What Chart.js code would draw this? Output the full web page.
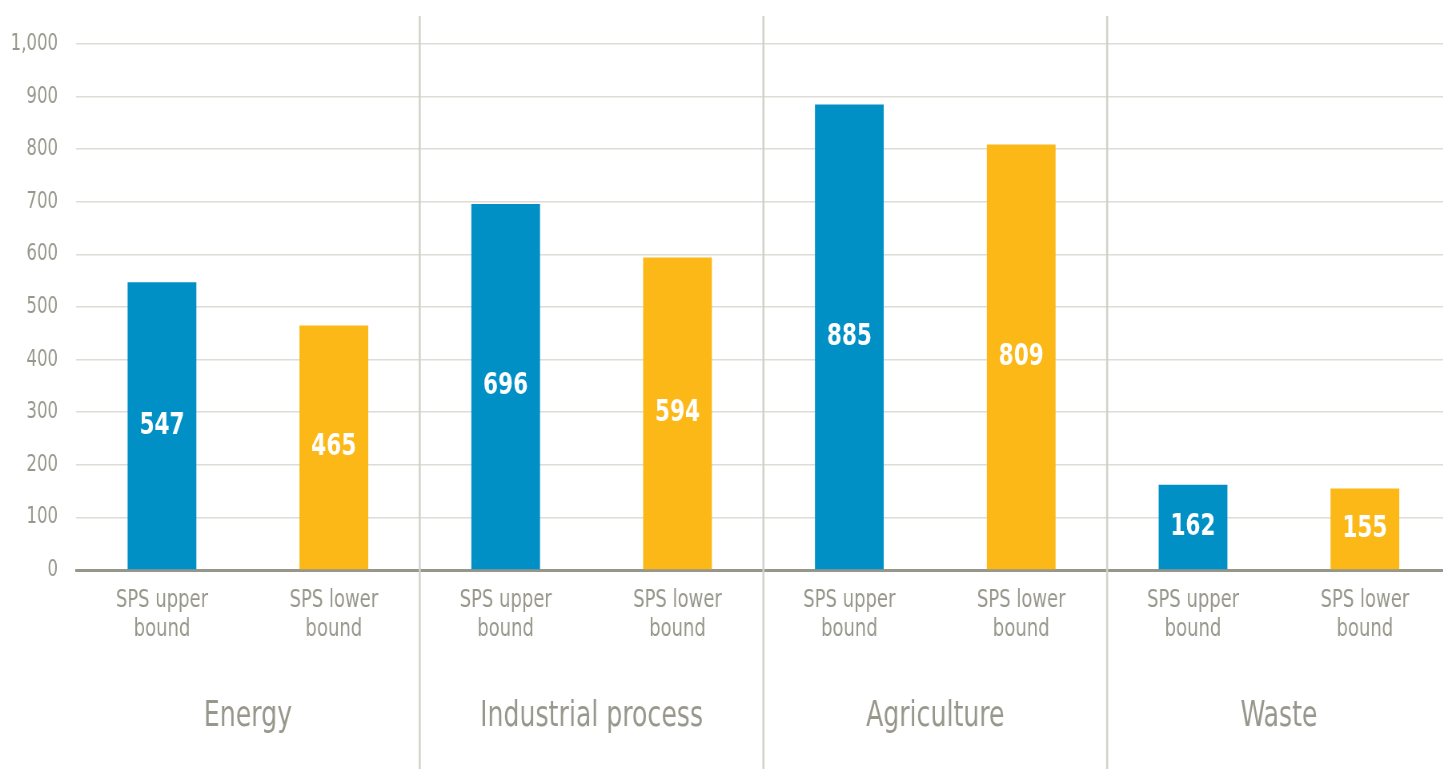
<!DOCTYPE html>
<html>
<head>
<meta charset="utf-8">
<script src="https://cdn.jsdelivr.net/npm/chart.js@4/dist/chart.umd.min.js"></script>
<style>
  html, body { margin: 0; padding: 0; background: #fff; overflow: hidden; }
  /* drawn wide, then squeezed horizontally so the lettering reads condensed */
  #wrap { position: relative; width: 1812.5px; height: 769px; transform: scaleX(0.8); transform-origin: 0 0; }
</style>
</head>
<body>
<div id="wrap"><canvas id="chart"></canvas></div>
<script>
// sectors and the two SPS bounds inside each one
var sectors = ['Energy', 'Industrial process', 'Agriculture', 'Waste']
var bounds = [['SPS upper', 'bound'], ['SPS lower', 'bound']]
var upperValues = [547, 696, 885, 162]
var lowerValues = [465, 594, 809, 155]
var yTicks = [0, 100, 200, 300, 400, 500, 600, 700, 800, 900, 1000]

var SQUEEZE = 0.8
var BLUE = '#0090c5'
var YELLOW = '#fbb817'
var GREY_TEXT = '#97978c'
var FONT = '"DejaVu Sans Condensed", "Liberation Sans Narrow", "Roboto", sans-serif'

// flatten into one bar per (sector, bound)
var barLabels = []
var barValues = []
var barColors = []
for (var s = 0; s < sectors.length; s++) {
  barLabels.push(bounds[0], bounds[1])
  barValues.push(upperValues[s], lowerValues[s])
  barColors.push(BLUE, YELLOW)
}

// white value label in the middle of each bar
const valueLabels = {
  id: 'valueLabels',
  afterDatasetsDraw(chart) {
    const ctx = chart.ctx
    const meta = chart.getDatasetMeta(0)
    ctx.save()
    ctx.fillStyle = '#fff'
    ctx.font = 'bold 30px ' + FONT
    ctx.textAlign = 'center'
    ctx.textBaseline = 'middle'
    meta.data.forEach((bar, i) => {
      ctx.fillText(String(barValues[i]), bar.x, (bar.y + bar.base) / 2)
    })
    ctx.restore()
  }
}

// thin vertical rules between sectors, running the full height
const sectorRules = {
  id: 'sectorRules',
  beforeDatasetsDraw(chart) {
    const ctx = chart.ctx
    const x = chart.scales.x
    ctx.save()
    ctx.strokeStyle = '#d2d1c9'
    ctx.lineWidth = 2 / SQUEEZE
    for (var i = 2; i < barValues.length; i += 2) {
      const px = (x.getPixelForValue(i - 1) + x.getPixelForValue(i)) / 2
      ctx.beginPath()
      ctx.moveTo(px, 16)
      ctx.lineTo(px, chart.height)
      ctx.stroke()
    }
    ctx.restore()
  }
}

new Chart(document.getElementById('chart'), {
  type: 'bar',
  data: {
    labels: barLabels,
    datasets: [{
      data: barValues,
      backgroundColor: barColors,
      barPercentage: 0.4,
      categoryPercentage: 1
    }]
  },
  options: {
    responsive: true,
    maintainAspectRatio: false,
    animation: false,
    layout: { padding: { top: 44, right: 0, bottom: 0, left: 0 } },
    plugins: {
      legend: { display: false },
      tooltip: { enabled: false }
    },
    scales: {
      y: {
        min: 0,
        max: 1000,
        afterBuildTicks: (scale) => { scale.ticks = yTicks.map(v => ({ value: v })) },
        afterFit: (scale) => { scale.width = 76 / SQUEEZE },
        border: { display: false },
        grid: { color: '#dedcd5', lineWidth: 1.5, drawTicks: false },
        ticks: {
          color: GREY_TEXT,
          font: { family: FONT, size: 23 },
          padding: 18 / SQUEEZE,
          callback: (v) => v.toLocaleString('en-US')
        }
      },
      x: {
        afterFit: (scale) => { scale.height = 90 },
        grid: { display: false, drawTicks: false },
        border: { display: true, color: '#97968b', width: 3 },
        ticks: {
          color: GREY_TEXT,
          font: { family: FONT, size: 25, lineHeight: 1.16 },
          padding: 16,
          maxRotation: 0,
          autoSkip: false
        }
      },
      x2: {
        type: 'category',
        labels: sectors,
        position: 'bottom',
        offset: true,
        afterFit: (scale) => { scale.height = 109 },
        grid: { display: false, drawTicks: false },
        border: { display: false },
        ticks: {
          color: GREY_TEXT,
          font: { family: FONT, size: 35, lineHeight: 1.2 },
          padding: 36,
          maxRotation: 0,
          autoSkip: false
        }
      }
    }
  },
  plugins: [sectorRules, valueLabels]
})
</script>
</body>
</html>
